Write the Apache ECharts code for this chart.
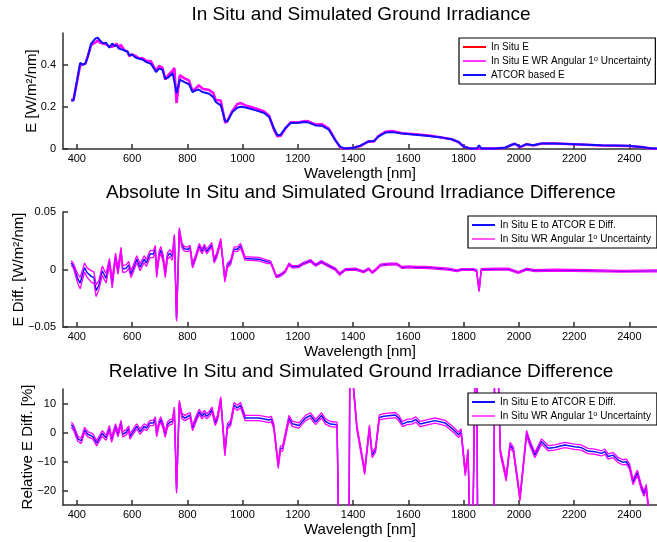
<!DOCTYPE html>
<html>
<head>
<meta charset="utf-8">
<script src="https://cdn.jsdelivr.net/npm/echarts@6/dist/echarts.min.js"></script>
<style>
html, body { margin: 0; padding: 0; background: #fff; }
#chart { width: 657px; height: 542px; }
</style>
</head>
<body>
<div id="chart"></div>
<script>
// --- panel 1: ground irradiance [W/m2/nm]
const wl1 = [
  380, 388, 412, 422, 431, 440, 452, 467, 476, 484,
  494, 506, 518, 528, 536, 544, 553, 559, 572, 584,
  590, 600, 614, 626, 638, 652, 659, 668, 687, 698,
  710, 720, 732, 747, 753, 761, 773, 788, 806, 819,
  831, 841, 855, 879, 894, 903, 921, 937, 945, 963,
  981, 993, 1011, 1048, 1078, 1096, 1114, 1126, 1138, 1156,
  1174, 1201, 1228, 1240, 1264, 1288, 1312, 1336, 1354, 1372,
  1402, 1426, 1457, 1475, 1493, 1517, 1541, 1577, 1625, 1673,
  1721, 1757, 1782, 1800, 1824, 1848, 1856, 1864, 1914, 1950,
  1974, 1986, 2004, 2028, 2052, 2082, 2130, 2202, 2299, 2395,
  2443, 2479, 2500
]
const eAtcor = [
  .229, .230, .408, .400, .405, .440, .500, .523, .528, .515,
  .502, .504, .480, .500, .490, .491, .476, .480, .468, .460,
  .444, .448, .433, .428, .424, .412, .415, .404, .365, .381,
  .376, .333, .340, .360, .355, .265, .329, .318, .307, .270,
  .278, .282, .270, .262, .246, .223, .207, .133, .130, .175,
  .196, .200, .197, .183, .171, .152, .097, .065, .068, .101,
  .123, .124, .128, .125, .112, .110, .092, .041, .010, .002,
  .006, .016, .036, .038, .060, .078, .080, .073, .068, .062,
  .054, .046, .033, .012, .002, .002, .018, .002, .002, .006,
  .020, .025, .010, .023, .018, .026, .026, .023, .018, .015,
  .010, .003, .002
]
const eInSitu = [
  .235, .233, .396, .400, .405, .440, .494, .505, .515, .505,
  .500, .496, .486, .485, .490, .500, .476, .495, .468, .462,
  .440, .448, .440, .430, .430, .418, .425, .417, .370, .394,
  .385, .330, .352, .371, .384, .218, .350, .336, .325, .273,
  .289, .302, .286, .280, .265, .232, .230, .124, .134, .180,
  .213, .218, .207, .192, .178, .158, .090, .060, .063, .099,
  .127, .126, .133, .130, .116, .117, .097, .042, .006, .002,
  .006, .014, .037, .035, .063, .082, .085, .075, .070, .064,
  .055, .046, .032, .012, .002, .001, .000, .002, .002, .006,
  .020, .025, .008, .023, .017, .026, .026, .022, .017, .014,
  .009, .002, .001
]

// --- panel 2: absolute difference and its uncertainty half-width
const wl2 = [
  380, 388, 404, 412, 428, 437, 452, 462, 470, 480,
  492, 506, 518, 528, 540, 549, 560, 566, 578, 588,
  596, 604, 617, 629, 644, 652, 665, 677, 684, 689,
  698, 704, 713, 720, 728, 737, 746, 753, 761, 771,
  781, 789, 801, 810, 819, 831, 843, 853, 862, 870,
  880, 889, 897, 906, 921, 936, 945, 957, 969, 981,
  993, 1009, 1059, 1090, 1102, 1122, 1132, 1142, 1154, 1168,
  1180, 1202, 1216, 1246, 1264, 1286, 1300, 1324, 1336, 1351,
  1372, 1408, 1438, 1457, 1469, 1483, 1499, 1529, 1559, 1577,
  1601, 1631, 1661, 1697, 1745, 1775, 1793, 1835, 1847, 1856,
  1864, 1914, 1962, 1998, 2028, 2058, 2130, 2250, 2371, 2500
]
const absDiff = [
  .0056, .003, -.0084, -.0118, .0017, -.0026, -.006, -.007, -.0185, -.0135,
  -.0011, -.0078, .0067, -.012, .0113, -.001, .0163, .0005, .001, .004,
  -.004, .0005, .009, .002, .009, .0056, .0134, .0134, .018, -.004,
  .013, .017, .009, -.004, .0115, .0143, .011, .0287, -.043, .0345,
  .0206, .018, .0175, .019, .0032, .0113, .0206, .0157, .02, .0157,
  .0187, .0215, .0076, .012, .025, -.009, .0035, .0064, .0177, .0177,
  .0206, .0096, .009, .0067, .0062, -.006, -.0055, -.0041, -.0018, .0047,
  .0023, .0026, .0047, .0076, .0038, .0067, .0047, .0018, .0003, -.004,
  -.0001, .0003, -.002, .0006, -.0026, 0, .0038, .0047, .0047, .0018,
  .0023, .0018, .0018, .0012, .0003, -.0011, 0, 0, -.001, -.0185,
  0, .0003, .0003, -.0026, .0003, -.001, -.0005, -.001, -.0015, -.0012
]
const absUnc = [
  .002, .002, .004, .005, .004, .004, .005, .005, .005, .004,
  .004, .004, .003, .004, .003, .003, .003, .003, .003, .003,
  .003, .003, .003, .003, .003, .003, .003, .003, .003, .003,
  .003, .003, .003, .003, .003, .003, .003, .002, .002, .002,
  .002, .002, .002, .002, .002, .002, .002, .002, .002, .002,
  .002, .002, .002, .002, .002, .002, .002, .002, .002, .002,
  .002, .0015, .0015, .0015, .001, .001, .001, .001, .001, .001,
  .001, .001, .001, .001, .001, .001, .001, .001, .001, .001,
  .0008, .0008, .0008, .0008, .0008, .0008, .0008, .0008, .0008, .0008,
  .0008, .0008, .0008, .0008, .0008, .0008, .0008, .0008, .0008, .0008,
  .0008, .0008, .0008, .0008, .0008, .0008, .0008, .0008, .0008, .0008
]

// --- panel 3: relative difference [%]
const wl3 = [
  380, 388, 404, 416, 428, 440, 458, 472, 482, 492,
  506, 518, 526, 540, 549, 560, 566, 578, 588, 592,
  604, 617, 629, 644, 652, 665, 677, 684, 689, 698,
  704, 713, 720, 728, 738, 746, 753, 761, 771, 781,
  792, 802, 810, 819, 831, 843, 853, 862, 870, 880,
  889, 901, 909, 921, 936, 945, 957, 969, 981, 993,
  1009, 1059, 1083, 1095, 1104, 1113, 1129, 1137, 1145, 1168,
  1180, 1204, 1228, 1246, 1264, 1286, 1300, 1318, 1342, 1352,
  1384, 1390, 1400, 1414, 1442, 1459, 1469, 1481, 1495, 1511,
  1553, 1565, 1579, 1595, 1613, 1627, 1643, 1673, 1697, 1733,
  1763, 1782, 1791, 1806, 1816, 1830, 1846, 1852, 1908, 1914,
  1933, 1954, 1968, 1980, 2004, 2028, 2040, 2058, 2082, 2106,
  2130, 2166, 2202, 2226, 2250, 2275, 2299, 2311, 2323, 2341,
  2359, 2377, 2389, 2401, 2413, 2429, 2443, 2453, 2461, 2470,
  2485
]
const relDiff = [
  2.7, 1.7, -2.2, -2.9, 0.9, -0.6, -1.4, -3.7, -2.0, -0.3,
  -1.8, 1.5, -2.5, 2.1, -0.6, 3.3, -0.6, 0, 1.4, -1.4,
  0.3, 2.1, 0.3, 2.1, 1.5, 3.3, 3.3, 4.5, -0.6, 3.3,
  4.5, 2.1, -0.8, 2.7, 3.6, 3.8, 7.9, -20, 10.2, 5.6,
  5.0, 5.6, 6.0, 1.5, 4.5, 7.1, 5.6, 6.7, 5.6, 6.4,
  7.9, 3.3, 5.0, 11.4, -7.2, 2.1, 3.3, 9.4, 8.5, 9.4,
  5.0, 5.0, 4.6, 4.3, 4.7, 2.1, -11.5, -5.5, -5.5, 5.0,
  3.0, 2.4, 5.0, 5.9, 3.6, 5.9, 3.8, 2.9, 2.7, -60,
  -60, 60, 17, 1.5, -13.6, 1.7, -7.8, -6, 5.2, 5.6,
  6.0, 5.0, 2.9, 3.6, 3.8, 4.5, 2.9, 3.6, 4.1, 3.3,
  1.0, -0.8, 0.4, -14.1, -6.6, -60, 60, -60, -60, 60,
  -6.6, -15.9, -4.3, -5.9, -22.7, -0.2, -3.7, -7.8, -3.1, -5.4,
  -5.2, -4.3, -4.9, -5.2, -6.4, -6.6, -7.2, -6.6, -8.3, -7.8,
  -9.5, -10.3, -10.1, -11.8, -17.1, -13.9, -18.8, -21.1, -18.8, -27,
  -35
]
const relUnc = 0.9

const xTicks = [400, 600, 800, 1000, 1200, 1400, 1600, 1800, 2000, 2200, 2400]

const RED = '#ff0000'
const MAG = '#ff00ff'
const BLUE = '#1010ff'
const AXIS = '#303030'
const FONT = 'Liberation Sans, Arial, Helvetica, sans-serif'

const pts = (xs, ys) => xs.map((x, i) => [x, ys[i]])
const minus = v => String(v).replace('-', '\u2212')

function xAxisFor(i) {
  return {
    gridIndex: i, type: 'value', min: 350, max: 2500,
    name: 'Wavelength [nm]', nameLocation: 'middle', nameGap: 17,
    nameTextStyle: { fontSize: 15, color: '#000', fontFamily: FONT },
    axisLine: { show: true, onZero: false, lineStyle: { color: AXIS, width: 1.5 } },
    axisTick: { show: true, inside: true, length: 5, customValues: xTicks, lineStyle: { color: AXIS, width: 1.5 } },
    axisLabel: { customValues: xTicks, fontSize: 11, color: '#000', margin: 4, fontFamily: FONT, formatter: v => String(v) },
    splitLine: { show: false }
  }
}

function yAxisFor(i, min, max, ticks, name, gap) {
  return {
    gridIndex: i, type: 'value', min: min, max: max,
    name: name, nameLocation: 'middle', nameGap: gap, nameMoveOverlap: false,
    nameTextStyle: { fontSize: 15, color: '#000', fontFamily: FONT },
    axisLine: { show: true, lineStyle: { color: AXIS, width: 1.5 } },
    axisTick: { show: true, inside: true, length: 5, customValues: ticks, lineStyle: { color: AXIS, width: 1.5 } },
    axisLabel: { customValues: ticks, fontSize: 11, color: '#000', margin: 7, fontFamily: FONT, formatter: minus },
    splitLine: { show: false }
  }
}

function legendFor(left, top, padRight, names) {
  return {
    orient: 'vertical', left: left, top: top,
    padding: [3, padRight, 3, 4], itemGap: 2, itemWidth: 23, itemHeight: 2, icon: 'rect',
    backgroundColor: '#fff', borderColor: '#000', borderWidth: 1.2, borderRadius: 0,
    textStyle: {
      fontSize: 10, color: '#000', fontFamily: FONT, lineHeight: 12,
      rich: { sup: { fontSize: 7.5, verticalAlign: 'top', lineHeight: 12, fontFamily: FONT } }
    },
    formatter: n => n.replace('1°', '1{sup|o}'),
    data: names
  }
}

function titleFor(text, top) {
  return {
    text: text, left: 361, top: top, textAlign: 'center', padding: 0,
    textStyle: { fontSize: 19, fontWeight: 'normal', color: '#000', fontFamily: FONT }
  }
}

const line = (name, data, color, width, xi, z) => ({
  name: name, type: 'line', xAxisIndex: xi, yAxisIndex: xi, data: data,
  showSymbol: false, symbol: 'none', clip: true, z: z,
  lineStyle: { color: color, width: width }, itemStyle: { color: color }
})

const n1 = ['In Situ E', 'In Situ E WR Angular 1° Uncertainty', 'ATCOR based E']
const n2 = ['In Situ E to ATCOR E Diff.', 'In Situ WR Angular 1° Uncertainty']

const option = {
  animation: false,
  textStyle: { fontFamily: FONT },
  title: [
    titleFor('In Situ and Simulated Ground Irradiance', 5),
    titleFor('Absolute In Situ and Simulated Ground Irradiance Difference', 183),
    titleFor('Relative In Situ and Simulated Ground Irradiance Difference', 362)
  ],
  legend: [
    legendFor(459, 38, 4, [n1[0], { name: n1[1], itemStyle: { color: '#ff33ff' } }, n1[2]]),
    legendFor(468, 216, 6, [n2[0], { name: n2[1], itemStyle: { color: '#ff55ff' } }]),
    legendFor(468, 393, 6, [n2[0], { name: n2[1], itemStyle: { color: '#ff55ff' } }])
  ],
  grid: [
    { left: 63, top: 33, width: 596, height: 116 },
    { left: 63, top: 212, width: 596, height: 115 },
    { left: 63, top: 389, width: 596, height: 116 }
  ],
  xAxis: [xAxisFor(0), xAxisFor(1), xAxisFor(2)],
  yAxis: [
    yAxisFor(0, 0, 0.55, [0, 0.2, 0.4], 'E [W/m²/nm]', 24),
    yAxisFor(1, -0.05, 0.05, [-0.05, 0, 0.05], 'E Diff. [W/m²/nm]', 37),
    yAxisFor(2, -25, 15, [-20, -10, 0, 10], 'Relative E Diff. [%]', 28)
  ],
  series: [
    line(n1[0], pts(wl1, eInSitu), RED, 1.5, 0, 2),
    line(n1[1], pts(wl1, eInSitu), MAG, 2.5, 0, 3),
    line(n1[2], pts(wl1, eAtcor), BLUE, 2, 0, 4),

    line(n2[0], pts(wl2, absDiff), BLUE, 1.5, 1, 2),
    line(n2[1], wl2.map((x, i) => [x, absDiff[i] + absUnc[i]]), MAG, 1.3, 1, 3),
    line(n2[1], wl2.map((x, i) => [x, absDiff[i] - absUnc[i]]), MAG, 1.3, 1, 3),

    line(n2[0], pts(wl3, relDiff), BLUE, 1.5, 2, 2),
    line(n2[1], wl3.map((x, i) => [x, relDiff[i] + relUnc]), MAG, 1.3, 2, 3),
    line(n2[1], wl3.map((x, i) => [x, relDiff[i] - relUnc]), MAG, 1.3, 2, 3)
  ]
}

const chart = echarts.init(document.getElementById('chart'), null, { renderer: 'canvas' })
chart.setOption(option)
</script>
</body>
</html>
